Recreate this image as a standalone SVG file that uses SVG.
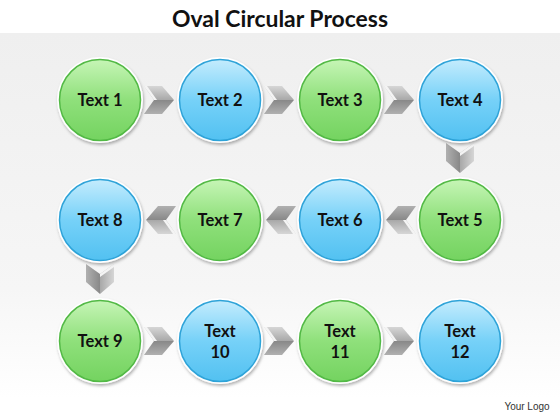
<svg xmlns="http://www.w3.org/2000/svg" xmlns:xlink="http://www.w3.org/1999/xlink" width="560" height="420" viewBox="0 0 560 420">
<style>
.title{font-family:"Lato","Liberation Sans",sans-serif;font-weight:bold;font-size:22px;fill:#111;text-anchor:middle}
.lbl{font-family:"Lato","Liberation Sans",sans-serif;font-weight:bold;font-size:16.5px;fill:#111;text-anchor:middle}
.logo{font-family:"Liberation Sans",sans-serif;font-size:10px;fill:#333;text-anchor:middle}
.ring{fill:#ffffff;filter:url(#sh)}
.g{fill:url(#gg);stroke:#52b945;stroke-width:1.5}
.b{fill:url(#bg);stroke:#2ea3d8;stroke-width:1.5}
</style>
<defs>
<linearGradient id="panel" x1="0" y1="0" x2="0" y2="1">
<stop offset="0" stop-color="#efefef"/><stop offset="0.7" stop-color="#f6f6f6"/><stop offset="1" stop-color="#ffffff"/>
</linearGradient>
<linearGradient id="gg" x1="0" y1="0" x2="0" y2="1">
<stop offset="0" stop-color="#c6f5b6"/><stop offset="0.5" stop-color="#8fe07b"/><stop offset="1" stop-color="#74d360"/>
</linearGradient>
<linearGradient id="bg" x1="0" y1="0" x2="0" y2="1">
<stop offset="0" stop-color="#c4ecfd"/><stop offset="0.5" stop-color="#76d1f8"/><stop offset="1" stop-color="#52c1f1"/>
</linearGradient>
<linearGradient id="cu" x1="0" y1="0" x2="0" y2="1">
<stop offset="0" stop-color="#d6d6d6"/><stop offset="1" stop-color="#a8a8a8"/>
</linearGradient>
<linearGradient id="cl" x1="0" y1="0" x2="0" y2="1">
<stop offset="0" stop-color="#888888"/><stop offset="1" stop-color="#b0b0b0"/>
</linearGradient>
<filter id="sh" x="-20%" y="-20%" width="140%" height="150%">
<feDropShadow dx="1" dy="2" stdDeviation="1.8" flood-color="#000" flood-opacity="0.3"/>
</filter>
<g id="chev">
<polygon points="-15,-14 3,-14 15,0 -5,0" fill="url(#cu)"/>
<polygon points="-5,0 15,0 3,14 -15,14" fill="url(#cl)"/>
<polygon points="-15,-14 -12,-14 -2,0 -5,0" fill="#f4f4f4"/>
</g>
</defs>
<rect x="0" y="0" width="560" height="420" fill="#ffffff"/>
<rect x="0" y="33" width="560" height="365" fill="url(#panel)"/>
<text class="title" x="280" y="27" textLength="216" lengthAdjust="spacingAndGlyphs">Oval Circular Process</text>

<g id="connectors">
<use xlink:href="#chev" transform="translate(159,100)"/>
<use xlink:href="#chev" transform="translate(279,100)"/>
<use xlink:href="#chev" transform="translate(399,100)"/>
<use xlink:href="#chev" transform="translate(460,158) rotate(90)"/>
<use xlink:href="#chev" transform="translate(401,220) rotate(180)"/>
<use xlink:href="#chev" transform="translate(281,220) rotate(180)"/>
<use xlink:href="#chev" transform="translate(161,220) rotate(180)"/>
<use xlink:href="#chev" transform="translate(100,279) rotate(90)"/>
<use xlink:href="#chev" transform="translate(159,341)"/>
<use xlink:href="#chev" transform="translate(279,341)"/>
<use xlink:href="#chev" transform="translate(399,341)"/>
</g>

<g id="n1"><circle class="ring" cx="100" cy="100" r="43"/><circle class="g" cx="100" cy="100" r="40.5"/><text class="lbl" x="100" y="106">Text 1</text></g>
<g id="n2"><circle class="ring" cx="220" cy="100" r="43"/><circle class="b" cx="220" cy="100" r="40.5"/><text class="lbl" x="220" y="106">Text 2</text></g>
<g id="n3"><circle class="ring" cx="340" cy="100" r="43"/><circle class="g" cx="340" cy="100" r="40.5"/><text class="lbl" x="340" y="106">Text 3</text></g>
<g id="n4"><circle class="ring" cx="460" cy="100" r="43"/><circle class="b" cx="460" cy="100" r="40.5"/><text class="lbl" x="460" y="106">Text 4</text></g>
<g id="n5"><circle class="ring" cx="460" cy="220" r="43"/><circle class="g" cx="460" cy="220" r="40.5"/><text class="lbl" x="460" y="226">Text 5</text></g>
<g id="n6"><circle class="ring" cx="340" cy="220" r="43"/><circle class="b" cx="340" cy="220" r="40.5"/><text class="lbl" x="340" y="226">Text 6</text></g>
<g id="n7"><circle class="ring" cx="220" cy="220" r="43"/><circle class="g" cx="220" cy="220" r="40.5"/><text class="lbl" x="220" y="226">Text 7</text></g>
<g id="n8"><circle class="ring" cx="100" cy="220" r="43"/><circle class="b" cx="100" cy="220" r="40.5"/><text class="lbl" x="100" y="226">Text 8</text></g>
<g id="n9"><circle class="ring" cx="100" cy="341" r="43"/><circle class="g" cx="100" cy="341" r="40.5"/><text class="lbl" x="100" y="347">Text 9</text></g>
<g id="n10"><circle class="ring" cx="220" cy="341" r="43"/><circle class="b" cx="220" cy="341" r="40.5"/><text class="lbl" x="220" y="337">Text</text><text class="lbl" x="220" y="358">10</text></g>
<g id="n11"><circle class="ring" cx="340" cy="341" r="43"/><circle class="g" cx="340" cy="341" r="40.5"/><text class="lbl" x="340" y="337">Text</text><text class="lbl" x="340" y="358">11</text></g>
<g id="n12"><circle class="ring" cx="460" cy="341" r="43"/><circle class="b" cx="460" cy="341" r="40.5"/><text class="lbl" x="460" y="337">Text</text><text class="lbl" x="460" y="358">12</text></g>

<text class="logo" x="527" y="410">Your Logo</text>
</svg>
